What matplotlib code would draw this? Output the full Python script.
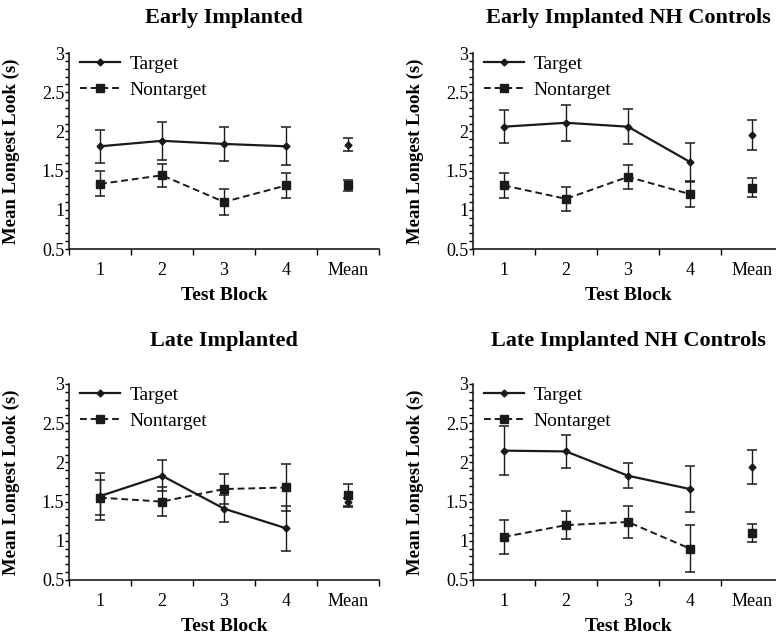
import matplotlib.pyplot as plt
import numpy as np

plt.rcParams['font.family'] = ['Liberation Serif', 'DejaVu Serif']

# categories on the x axis
blocks = ['1', '2', '3', '4', 'Mean']

titles = ['Early Implanted', 'Early Implanted NH Controls',
          'Late Implanted', 'Late Implanted NH Controls']

# means and error bar half widths, per panel (order: 1, 2, 3, 4, Mean)
target = [
    [1.81, 1.88, 1.84, 1.81, 1.83],
    [2.06, 2.11, 2.06, 1.61, 1.95],
    [1.57, 1.83, 1.41, 1.16, 1.49],
    [2.15, 2.14, 1.83, 1.66, 1.94],
]
target_err = [
    [0.21, 0.24, 0.22, 0.24, 0.08],
    [0.21, 0.23, 0.22, 0.24, 0.19],
    [0.30, 0.20, 0.17, 0.29, 0.05],
    [0.31, 0.21, 0.16, 0.29, 0.22],
]
nontarget = [
    [1.33, 1.44, 1.10, 1.31, 1.31],
    [1.31, 1.14, 1.42, 1.20, 1.28],
    [1.55, 1.50, 1.66, 1.68, 1.58],
    [1.05, 1.20, 1.24, 0.90, 1.10],
]
nontarget_err = [
    [0.16, 0.15, 0.16, 0.16, 0.07],
    [0.16, 0.15, 0.15, 0.16, 0.12],
    [0.22, 0.18, 0.19, 0.30, 0.15],
    [0.22, 0.18, 0.20, 0.30, 0.11],
]

fig = plt.figure(figsize=(7.76, 6.39), dpi=100)

# axes boxes in pixels: left, top, bottom ; title centre y
W, H = 776, 639
boxes = [(69, 53, 249, 18), (473, 53, 249, 18),
         (69, 384, 580, 341), (473, 384, 580, 341)]
col = '#1a1a1a'

for i, (l, t, b, ty) in enumerate(boxes):
    ax = fig.add_axes([l / W, 1 - b / H, 310 / W, (b - t) / H])
    x = np.arange(1, 6)

    # lines only through the 4 blocks, mean drawn apart
    ax.plot(x[:4], target[i][:4], color=col, lw=1.6, marker='D', ms=3.5,
            label='Target')
    ax.plot(x[:4], nontarget[i][:4], color=col, lw=1.4, ls=(0, (3.5, 2)),
            marker='s', ms=5.5, label='Nontarget')
    ax.errorbar(x, target[i], yerr=target_err[i], fmt='none', ecolor=col,
                elinewidth=1, capsize=3.5, capthick=1.1)
    ax.errorbar(x, nontarget[i], yerr=nontarget_err[i], fmt='none',
                ecolor=col, elinewidth=1, capsize=3.5, capthick=1.1)
    ax.plot(x[4], target[i][4], color=col, marker='D', ms=3.5)
    ax.plot(x[4], nontarget[i][4], color=col, marker='s', ms=5.5)

    ax.set_xlim(0.5, 5.5)
    ax.set_ylim(0.5, 3)
    ax.set_xticks(x)
    ax.set_xticklabels(blocks, fontsize=13)
    ax.set_xticks(np.arange(0.5, 5.6, 1), minor=True)
    ax.tick_params(axis='x', which='major', length=0, pad=9)
    ax.tick_params(axis='x', which='minor', length=4, width=1, direction='out')
    ax.set_yticks(np.arange(0.5, 3.01, 0.5))
    ax.set_yticklabels(['0.5', '1', '1.5', '2', '2.5', '3'], fontsize=13)
    ax.set_yticks(np.arange(0.5, 3.01, 0.1), minor=True)
    ax.tick_params(axis='y', which='both', length=3, width=1, direction='out',
                   pad=0.5)
    for s in ['top', 'right']:
        ax.spines[s].set_visible(False)
    for s in ['left', 'bottom']:
        ax.spines[s].set_linewidth(1.2)
        ax.spines[s].set_color(col)

    fig.text((l + 155) / W, 1 - ty / H, titles[i], fontsize=16,
             fontweight='bold', ha='center', va='center')
    ax.set_xlabel('Test Block', fontsize=14, fontweight='bold', labelpad=6)
    ax.set_ylabel('Mean Longest Look (s)', fontsize=13.5, fontweight='bold')
    ax.yaxis.set_label_coords(-49 / 310, 0.5)
    ax.legend(loc='upper left', bbox_to_anchor=(11 / 310, 0.99),
              frameon=False, fontsize=14, handlelength=2.05,
              handletextpad=0.5, labelspacing=0.45, borderaxespad=0,
              borderpad=0)

fig.savefig('out.png', dpi=100)
